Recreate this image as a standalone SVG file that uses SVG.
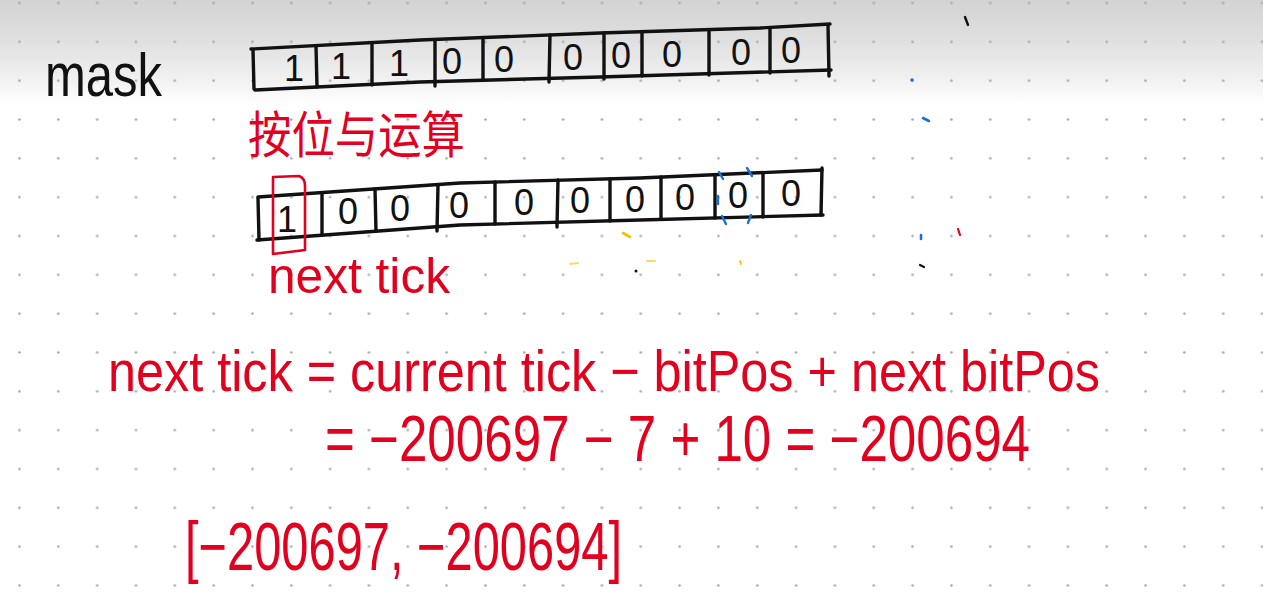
<svg xmlns="http://www.w3.org/2000/svg" width="1263" height="613" viewBox="0 0 1263 613">
  <defs>
    <linearGradient id="bg" x1="0" y1="0" x2="0" y2="613" gradientUnits="userSpaceOnUse">
      <stop offset="0" stop-color="#d3d3d3"/>
      <stop offset="0.06" stop-color="#dedede"/>
      <stop offset="0.13" stop-color="#f1f1f1"/>
      <stop offset="0.17" stop-color="#ffffff"/>
      <stop offset="1" stop-color="#ffffff"/>
    </linearGradient>
    <pattern id="dots" x="0.1" y="-16.4" width="38.83" height="38.83" patternUnits="userSpaceOnUse">
      <circle cx="19.4" cy="19.4" r="1.3" fill="#a9a9a9"/>
    </pattern>
    <style>
      .ink { fill: none; stroke: #111; stroke-width: 3.4; stroke-linecap: round; stroke-linejoin: round; }
      .red { fill: none; stroke: #e3001f; stroke-width: 2.6; stroke-linecap: round; stroke-linejoin: round; }
      .blue { fill: none; stroke: #1a6fe0; stroke-width: 2.4; stroke-linecap: round; }
      .bit { font-family: "Liberation Sans", Arial, sans-serif; font-size: 36px; fill: #111; text-anchor: middle; }
      .hand { font-family: "Liberation Sans", Arial, sans-serif; fill: #e3001f; }
      .cjk { font-family: "Noto Sans CJK SC", "Noto Sans", sans-serif; fill: #e3001f; }
    </style>
  </defs>

  <rect x="0" y="0" width="1263" height="613" fill="url(#bg)"/>
  <rect x="0" y="0" width="1263" height="613" fill="url(#dots)"/>

  <g id="mask-label">
    <text x="45" y="96" font-family="Liberation Sans, Arial, sans-serif" font-size="62" fill="#111" textLength="117" lengthAdjust="spacingAndGlyphs">mask</text>
  </g>

  <g id="mask-array">
    <polyline class="ink" points="251,49 420,40 600,33 760,28 830,24"/>
    <polyline class="ink" points="255,90 420,82 600,77 831,70"/>
    <line class="ink" x1="253" y1="50" x2="254" y2="89"/>
    <line class="ink" x1="316" y1="46" x2="317" y2="87"/>
    <line class="ink" x1="372" y1="43" x2="372" y2="85"/>
    <line class="ink" x1="435" y1="40" x2="435" y2="86"/>
    <line class="ink" x1="483" y1="38" x2="483" y2="80"/>
    <line class="ink" x1="550" y1="35" x2="549" y2="82"/>
    <line class="ink" x1="604" y1="33" x2="604" y2="79"/>
    <line class="ink" x1="642" y1="32" x2="642" y2="76"/>
    <line class="ink" x1="709" y1="30" x2="709" y2="75"/>
    <line class="ink" x1="770" y1="28" x2="770" y2="73"/>
    <line class="ink" x1="828" y1="25" x2="829" y2="76"/>
    <text class="bit" x="294" y="81">1</text>
    <text class="bit" x="341" y="79">1</text>
    <text class="bit" x="399" y="76">1</text>
    <text class="bit" x="452" y="74">0</text>
    <text class="bit" x="504" y="72">0</text>
    <text class="bit" x="573" y="70">0</text>
    <text class="bit" x="621" y="68">0</text>
    <text class="bit" x="672" y="67">0</text>
    <text class="bit" x="741" y="65">0</text>
    <text class="bit" x="791" y="63">0</text>
  </g>

  <g id="op-label">
    <text class="cjk" x="248" y="153" font-size="50" textLength="217" lengthAdjust="spacingAndGlyphs">按位与运算</text>
  </g>

  <g id="result-array">
    <polyline class="ink" points="258,197 460,183 640,178 822,170"/>
    <polyline class="ink" points="257,240 460,225 640,220 823,215"/>
    <line class="ink" x1="258" y1="198" x2="259" y2="240"/>
    <line class="ink" x1="322" y1="193" x2="322" y2="235"/>
    <line class="ink" x1="375" y1="189" x2="376" y2="231"/>
    <line class="ink" x1="438" y1="185" x2="437" y2="231"/>
    <line class="ink" x1="495" y1="182" x2="495" y2="224"/>
    <line class="ink" x1="558" y1="180" x2="557" y2="227"/>
    <line class="ink" x1="610" y1="179" x2="610" y2="221"/>
    <line class="ink" x1="661" y1="177" x2="661" y2="219"/>
    <line class="ink" x1="715" y1="175" x2="715" y2="218"/>
    <line class="ink" x1="763" y1="173" x2="763" y2="217"/>
    <line class="ink" x1="822" y1="168" x2="821" y2="215"/>
    <text class="bit" x="287" y="232">1</text>
    <text class="bit" x="348" y="224">0</text>
    <text class="bit" x="400" y="221">0</text>
    <text class="bit" x="459" y="218">0</text>
    <text class="bit" x="524" y="215">0</text>
    <text class="bit" x="580" y="213">0</text>
    <text class="bit" x="635" y="212">0</text>
    <text class="bit" x="685" y="210">0</text>
    <text class="bit" x="738" y="208">0</text>
    <text class="bit" x="791" y="206">0</text>
    <path class="red" d="M273,254 L273,177 L299,176 Q305,178 305,186 L305,250 L273,254"/>
    <line class="blue" x1="719" y1="172" x2="723" y2="179"/>
    <line class="blue" x1="747" y1="168" x2="752" y2="176"/>
    <line class="blue" x1="718" y1="196" x2="718" y2="204"/>
    <line class="blue" x1="722" y1="216" x2="726" y2="224"/>
    <line class="blue" x1="751" y1="215" x2="748" y2="223"/>
  </g>

  <g id="next-tick-label">
    <text class="hand" x="268" y="293" font-size="50" textLength="182" lengthAdjust="spacingAndGlyphs">next tick</text>
  </g>

  <g id="formula">
    <text class="hand" x="108" y="391" font-size="58" textLength="992" lengthAdjust="spacingAndGlyphs">next tick = current tick − bitPos + next bitPos</text>
    <text class="hand" x="325" y="461" font-size="64" textLength="705" lengthAdjust="spacingAndGlyphs">= −200697 − 7 + 10 = −200694</text>
  </g>

  <g id="range">
    <text class="hand" x="185" y="570" font-size="68" textLength="437" lengthAdjust="spacingAndGlyphs">[−200697, −200694]</text>
  </g>

  <g id="connectors"/>

  <g id="stray-marks" stroke-linecap="round">
    <line x1="965" y1="17" x2="968" y2="25" stroke="#111" stroke-width="2.4"/>
    <circle cx="912" cy="80" r="1.8" fill="#1a6fe0"/>
    <line x1="923" y1="118" x2="929" y2="121" stroke="#1a6fe0" stroke-width="2.6"/>
    <line x1="921" y1="235" x2="921" y2="239" stroke="#1a6fe0" stroke-width="2.6"/>
    <line x1="958" y1="229" x2="960" y2="235" stroke="#e3001f" stroke-width="2.2"/>
    <line x1="920" y1="265" x2="924" y2="267" stroke="#111" stroke-width="2.2"/>
    <line x1="623" y1="233" x2="630" y2="237" stroke="#f2c200" stroke-width="2.6"/>
    <line x1="570" y1="264" x2="578" y2="263" stroke="#f4dc60" stroke-width="1.8"/>
    <line x1="647" y1="261" x2="655" y2="261" stroke="#f4dc60" stroke-width="1.8"/>
    <line x1="740" y1="261" x2="741" y2="264" stroke="#f2c200" stroke-width="1.8"/>
    <circle cx="636" cy="271" r="1.5" fill="#111"/>
  </g>
</svg>
